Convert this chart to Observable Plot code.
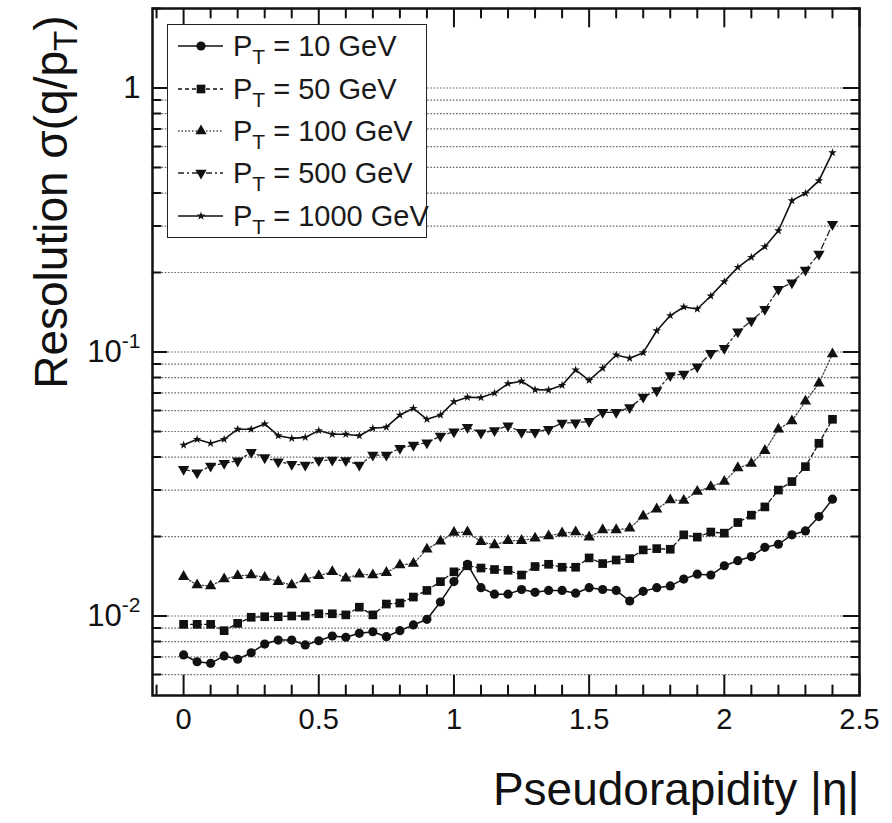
<!DOCTYPE html>
<html>
<head>
<meta charset="utf-8">
<script src="https://cdn.jsdelivr.net/npm/d3@7"></script>
<script src="https://cdn.jsdelivr.net/npm/@observablehq/plot@0.6"></script>
<style>
  body { margin: 0; background: #fff; font-family: "Liberation Sans", Arial, Helvetica, sans-serif; }
  #wrap { position: relative; width: 892px; height: 823px; }
  #legend { position: absolute; left: 167px; top: 24px; width: 258px; height: 212px;
            border: 1.5px solid #222; background: #fff; }
  .row { position: absolute; left: 0; height: 40px; display: flex; align-items: center; white-space: nowrap; }
  .row span { font-size: 29px; color: #1a1a1a; margin-left: 5px; }
  .row sub { font-size: 21px; vertical-align: -8px; line-height: 0; }
</style>
</head>
<body>
<div id="wrap"><div id="chart"></div><div id="legend"></div></div>
<script>
// ---- data ----
const eta = [0,0.05,0.1,0.15,0.2,0.25,0.3,0.35,0.4,0.45,0.5,0.55,0.6,0.65,0.7,0.75,0.8,0.85,0.9,0.95,
             1,1.05,1.1,1.15,1.2,1.25,1.3,1.35,1.4,1.45,1.5,1.55,1.6,1.65,1.7,1.75,1.8,1.85,1.9,1.95,
             2,2.05,2.1,2.15,2.2,2.25,2.3,2.35,2.4];
const res10 = [0.00712,0.00671,0.00662,0.00706,0.00686,0.00726,0.00783,0.00811,0.00811,0.00777,
               0.00806,0.00840,0.00831,0.00860,0.00872,0.00835,0.00880,0.00925,0.00972,0.0113,
               0.0135,0.0157,0.0128,0.0121,0.0121,0.0126,0.0123,0.0125,0.0125,0.0122,
               0.0128,0.0126,0.0125,0.0114,0.0124,0.0128,0.0130,0.0138,0.0144,0.0143,
               0.0155,0.0162,0.0168,0.0182,0.0187,0.0203,0.0210,0.0238,0.0277];
const res50 = [0.00930,0.00930,0.00930,0.00880,0.00938,0.00989,0.00994,0.00994,0.0100,0.0100,
               0.0102,0.0102,0.0101,0.0108,0.0101,0.0111,0.0112,0.0118,0.0125,0.0135,
               0.0147,0.0155,0.0152,0.0150,0.0149,0.0143,0.0154,0.0157,0.0153,0.0153,
               0.0166,0.0158,0.0163,0.0165,0.0178,0.0180,0.0179,0.0203,0.0199,0.0208,
               0.0206,0.0226,0.0241,0.0259,0.0300,0.0323,0.0368,0.0451,0.0556];
const res100 = [0.0141,0.0131,0.0130,0.0138,0.0142,0.0143,0.0140,0.0135,0.0131,0.0138,
                0.0142,0.0147,0.0139,0.0144,0.0143,0.0146,0.0156,0.0158,0.0179,0.0192,
                0.0207,0.0208,0.0191,0.0186,0.0193,0.0193,0.0197,0.0201,0.0206,0.0208,
                0.0199,0.0212,0.0212,0.0215,0.0239,0.0254,0.0275,0.0274,0.0296,0.0309,
                0.0323,0.0364,0.0378,0.0423,0.0510,0.0548,0.0651,0.0761,0.0983];
const res500 = [0.0360,0.0349,0.0370,0.0379,0.0387,0.0417,0.0398,0.0384,0.0376,0.0373,
                0.0388,0.0390,0.0388,0.0373,0.0407,0.0407,0.0432,0.0444,0.0453,0.0481,
                0.0499,0.0519,0.0494,0.0504,0.0526,0.0497,0.0497,0.0510,0.0538,0.0540,
                0.0546,0.0591,0.0591,0.0616,0.0675,0.0714,0.0815,0.0825,0.0880,0.0989,
                0.1033,0.1194,0.1314,0.1451,0.1728,0.1830,0.2045,0.2351,0.3046];
const res1000 = [0.0444,0.0467,0.0451,0.0467,0.0510,0.0510,0.0534,0.0482,0.0471,0.0475,
                 0.0504,0.0488,0.0488,0.0482,0.0514,0.0519,0.0577,0.0612,0.0556,0.0577,
                 0.0648,0.0674,0.0672,0.0699,0.0759,0.0775,0.0720,0.0718,0.0748,0.0855,
                 0.0781,0.0868,0.0974,0.0947,0.0994,0.1204,0.1374,0.1481,0.1455,0.1630,
                 0.1847,0.2093,0.2284,0.2505,0.2880,0.3743,0.3991,0.4456,0.5688];
const ptLabels = ["10", "50", "100", "500", "1000"];

const xMajor = [0, 0.5, 1, 1.5, 2, 2.5];
const xMinor = [-0.1,0.1,0.2,0.3,0.4,0.6,0.7,0.8,0.9,1.1,1.2,1.3,1.4,1.6,1.7,1.8,1.9,2.1,2.2,2.3,2.4];
const yMajor = [0.01, 0.1, 1];
const yMinor = [0.006,0.007,0.008,0.009,0.02,0.03,0.04,0.05,0.06,0.07,0.08,0.09,
                0.2,0.3,0.4,0.5,0.6,0.7,0.8,0.9,2];
const yTickText = ["10^-2", "10^-1", "1"];
const xTitle = "Pseudorapidity |η|";
const yTitle = ["Resolution σ(q/p", "T", ")"];

// ---- styles per series ----
const seriesValues = [res10, res50, res100, res500, res1000];
const styles = [
  {dash: null,        stroke: "#111", sw: 1.5, symbol: "circle",   r: 4.6, rotate: 0},
  {dash: "4,3",       stroke: "#111", sw: 1.3, symbol: "square",   r: 4.9, rotate: 0},
  {dash: "1.5,2",     stroke: "#444", sw: 1.3, symbol: "triangle", r: 4.2, rotate: 0},
  {dash: "6,3,2,3",   stroke: "#222", sw: 1.3, symbol: "triangle", r: 4.2, rotate: 180},
  {dash: null,        stroke: "#111", sw: 1.6, symbol: "star",     r: 2.7, rotate: 0}
];
const rows = [];
seriesValues.forEach((arr, k) => arr.forEach((v, i) => rows.push({eta: eta[i], res: v, pt: ptLabels[k]})));

const tickShape = { draw(context, l) { context.moveTo(0, 0); context.lineTo(0, -l); } };
const tick = (vals, anchor, rot, len) => Plot.vector(vals, {
  [anchor === "left" || anchor === "right" ? "y" : "x"]: d => d,
  frameAnchor: anchor, rotate: rot, length: len, anchor: "start",
  shape: tickShape, stroke: "#111", strokeWidth: 2
});

const marks = [
  Plot.ruleY([...yMinor, ...yMajor], {stroke: "#6a6a6a", strokeWidth: 1.2, strokeDasharray: "1.6,1.6"})
];
ptLabels.forEach((pt, k) => {
  const s = styles[k];
  const data = rows.filter(d => d.pt === pt);
  marks.push(Plot.line(data, {x: "eta", y: "res", stroke: s.stroke, strokeWidth: s.sw,
                              strokeDasharray: s.dash}));
  marks.push(Plot.dot(data, {x: "eta", y: "res", symbol: s.symbol, r: s.r, rotate: s.rotate,
                             fill: "#111", stroke: "none"}));
});
marks.push(
  tick(xMajor, "bottom", 0, 20), tick(xMinor, "bottom", 0, 10),
  tick(xMajor, "top", 180, 18), tick(xMinor, "top", 180, 9),
  tick(yMajor, "left", 90, 14), tick(yMinor, "left", 90, 8),
  tick(yMajor, "right", -90, 16), tick(yMinor, "right", -90, 8),
  Plot.frame({stroke: "#111", strokeWidth: 2.5}),
  Plot.axisX({ticks: xMajor, tickSize: 0, tickPadding: 13, fontSize: 29, label: null,
              tickFormat: d => String(d)}),
  Plot.axisY({ticks: yMajor, tickSize: 0, tickPadding: 12, fontSize: 31, label: null,
              tickFormat: d => yTickText[yMajor.indexOf(d)]}),
  Plot.text([xTitle], {text: d => d, frameAnchor: "bottom-right", textAnchor: "end",
            lineAnchor: "middle", dy: 95, fontSize: 46, fill: "#111"}),
  Plot.text([yTitle.join("")], {text: d => d, frameAnchor: "top-left", rotate: -90,
            textAnchor: "end", lineAnchor: "middle", dx: -100, dy: 7, fontSize: 46, fill: "#111"})
);

const chart = Plot.plot({
  width: 892, height: 823,
  marginLeft: 152, marginRight: 33, marginTop: 8, marginBottom: 128,
  style: {fontFamily: '"Liberation Sans", Arial, Helvetica, sans-serif', color: "#111", background: "#fff"},
  x: {domain: [-0.115, 2.5], axis: null},
  y: {type: "log", domain: [0.005, 2], axis: null},
  marks
});
document.getElementById("chart").appendChild(chart);

d3.select(chart).selectAll("text").each(function() {
  const t = d3.select(this);
  const s = t.text();
  if (s.includes("^")) {            // superscript exponents on y tick labels
    const [base, exp] = s.split("^");
    t.text(base);
    t.append("tspan").attr("font-size", 21).attr("dy", -14).text(exp);
  } else if (s === yTitle.join("")) { // subscript in y title
    t.text(yTitle[0]);
    t.append("tspan").attr("font-size", 33).attr("dy", 10).text(yTitle[1]);
    t.append("tspan").attr("dy", -10).text(yTitle[2]);
  }
});

// legend
const legend = d3.select("#legend");
const centers = [21, 64, 106, 148, 191];
ptLabels.forEach((pt, k) => {
  const s = styles[k];
  const row = legend.append("div").attr("class", "row").style("top", (centers[k] - 20) + "px");
  const svg = row.append("svg").attr("width", 60).attr("height", 40);
  svg.append("line").attr("x1", 10).attr("x2", 55).attr("y1", 20).attr("y2", 20)
     .attr("stroke", s.stroke).attr("stroke-width", s.sw)
     .attr("stroke-dasharray", s.dash);
  const sym = {circle: d3.symbolCircle, square: d3.symbolSquare, triangle: d3.symbolTriangle, star: d3.symbolStar}[s.symbol];
  svg.append("path").attr("d", d3.symbol(sym, Math.PI * s.r * s.r)())
     .attr("transform", `translate(33,20) rotate(${s.rotate})`).attr("fill", "#111");
  row.append("span").html(`P<sub>T</sub> = ${pt} GeV`);
});
</script>
</body>
</html>
